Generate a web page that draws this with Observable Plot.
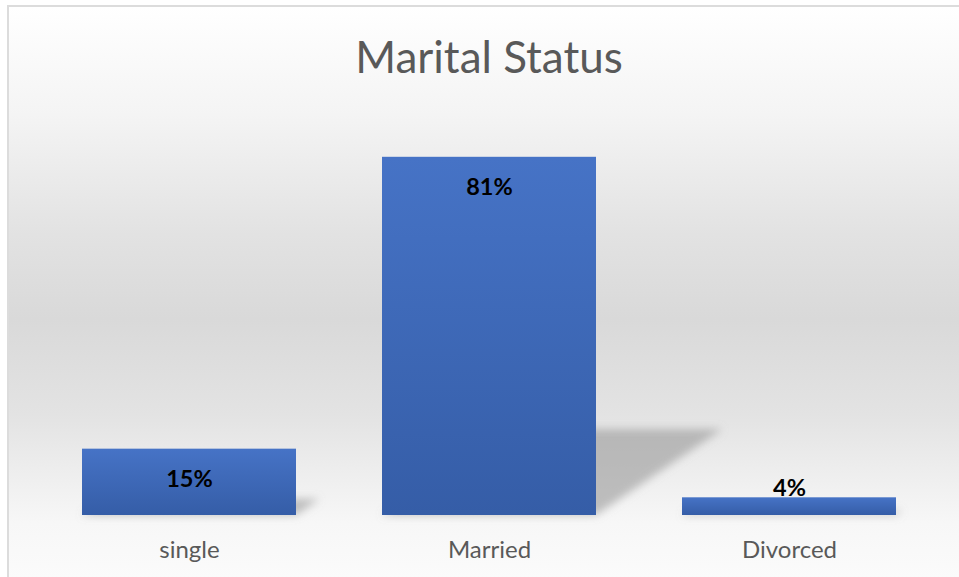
<!DOCTYPE html>
<html>
<head>
<meta charset="utf-8">
<script src="https://cdn.jsdelivr.net/npm/d3@7"></script>
<script src="https://cdn.jsdelivr.net/npm/@observablehq/plot@0.6"></script>
<style>
  html, body { margin: 0; padding: 0; background: #ffffff; }
  #wrap { position: relative; width: 959px; height: 577px; overflow: hidden; }
  #bg {
    position: absolute; left: 7px; top: 5px; width: 980px; height: 600px;
    border-top: 2px solid #dcdcdc; border-left: 2px solid #dcdcdc;
    background: linear-gradient(to bottom, #ffffff 0%, #f4f4f4 18%, #e2e2e2 38%, #d9d9d9 52%, #e3e3e3 68%, #f7f7f7 86%, #fdfdfd 100%);
  }
  #chart { position: absolute; left: 0; top: 0; }
</style>
</head>
<body>
<div id="wrap"><div id="bg"></div><div id="chart"></div></div>
<script>
const title = "Marital Status";
const categories = ["single", "Married", "Divorced"];
const values = [15, 81, 4];
const labels = ["15%", "81%", "4%"];

const data = categories.map((c, i) => ({category: c, value: values[i], label: labels[i]}));

const font = "Lato, 'Open Sans', sans-serif";

const plot = Plot.plot({
  width: 959,
  height: 577,
  marginLeft: 38,
  marginRight: 20,
  marginTop: 117,
  marginBottom: 62,
  style: {background: "transparent", fontFamily: font},
  x: {domain: categories, paddingInner: 0.288, paddingOuter: 0.143, label: null},
  y: {domain: [0, 90], axis: null},
  marks: [
    Plot.barY(data, {x: "category", y: "value", fill: "#8f8f8f", fillOpacity: 0.55}),
    Plot.barY(data, {x: "category", y: "value", fill: "url(#barGrad)"}),
    Plot.text(data.filter(d => d.value >= 10), {x: "category", y: "value", text: "label", dy: 30, fontSize: 23.5, fontWeight: "bold", fill: "#000000"}),
    Plot.text(data.filter(d => d.value < 10), {x: "category", y: "value", text: "label", dy: -9, fontSize: 23.5, fontWeight: "bold", fill: "#000000"}),
    Plot.axisX({tickSize: 0, tickPadding: 25, fontSize: 24, fill: "#595959", label: null}),
    Plot.text([title], {frameAnchor: "top", lineAnchor: "bottom", dy: -45, fontSize: 44, fill: "#595959"})
  ]
});

// gradients and shadow filter
const ns = "http://www.w3.org/2000/svg";
const defs = document.createElementNS(ns, "defs");
defs.innerHTML = `
  <linearGradient id="barGrad" x1="0" y1="0" x2="0" y2="1">
    <stop offset="0%" stop-color="#4673C6"/>
    <stop offset="100%" stop-color="#355DA7"/>
  </linearGradient>
  <filter id="shadowBlur" x="-20%" y="-50%" width="140%" height="200%">
    <feGaussianBlur stdDeviation="4"/>
  </filter>`;
plot.insertBefore(defs, plot.firstChild);

// perspective shadow derived from the y scale baseline (first bar mark)
const b = plot.scale("y").apply(0);
const shadow = plot.querySelector('g[aria-label="bar"]');
if (shadow) {
  const outer = document.createElementNS(ns, "g");
  outer.setAttribute("filter", "url(#shadowBlur)");
  shadow.parentNode.insertBefore(outer, shadow);
  outer.appendChild(shadow);
  const old = shadow.getAttribute("transform") || "";
  const k = 0.353, s = 0.24;
  shadow.setAttribute("transform", `matrix(1,0,${-k},${s},${k * b},${(1 - s) * b}) ${old}`);
}

document.getElementById("chart").appendChild(plot);
</script>
</body>
</html>
